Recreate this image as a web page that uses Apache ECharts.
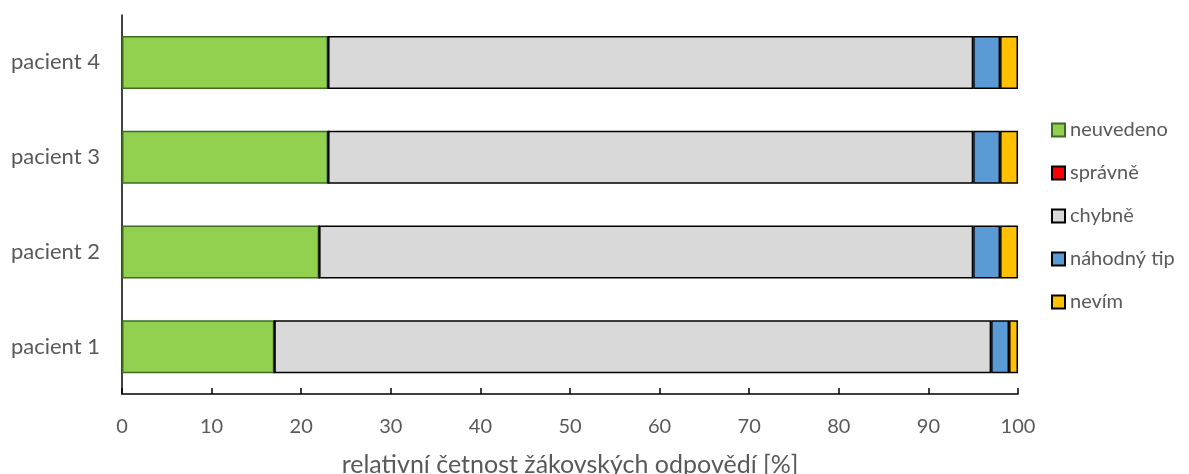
<!DOCTYPE html>
<html>
<head>
<meta charset="utf-8">
<script src="https://cdn.jsdelivr.net/npm/echarts@6/dist/echarts.min.js"></script>
<style>
  html, body { margin: 0; padding: 0; background: #fff; }
  #chart { width: 1189px; height: 474px; }
</style>
</head>
<body>
<div id="chart"></div>
<script>
// data (percent)
const categories = ['pacient 1', 'pacient 2', 'pacient 3', 'pacient 4'];
const neuvedeno = [17, 22, 23, 23];
const spravne = [0, 0, 0, 0];
const chybne = [80, 73, 72, 72];
const nahodnyTip = [2, 3, 3, 3];
const nevim = [1, 2, 2, 2];
const xTicks = { min: 0, max: 100, interval: 10 };

const fontFamily = 'Lato, "Open Sans", sans-serif';
const textColor = '#595959';

const chart = echarts.init(document.getElementById('chart'));

// one bar series
const makeSeries = (name, data, color, border) => ({
  name: name,
  type: 'bar',
  stack: 'all',
  data: data,
  barWidth: 53,
  itemStyle: { color: color, borderColor: border, borderWidth: 1.5 },
  emphasis: { disabled: true }
});

const option = {
  animation: false,
  grid: { left: 122, right: 171, top: 15, bottom: 80, outerBoundsMode: 'none' },
  legend: {
    orient: 'vertical',
    left: 1046,
    top: 115,
    itemWidth: 13,
    itemHeight: 13,
    itemGap: 23,
    icon: 'rect',
    textStyle: { fontFamily: fontFamily, fontSize: 20, color: textColor, padding: [0, 0, 0, 0] },
    data: ['neuvedeno', 'správně', 'chybně', 'náhodný tip', 'nevím']
  },
  xAxis: {
    type: 'value',
    min: xTicks.min,
    max: xTicks.max,
    interval: xTicks.interval,
    name: 'relativní četnost žákovských odpovědí [%]',
    nameLocation: 'middle',
    nameGap: 58,
    nameTextStyle: { fontFamily: fontFamily, fontSize: 25, color: textColor },
    axisLine: { show: true, lineStyle: { color: '#000', width: 1.5 } },
    axisTick: { show: true, inside: true, length: 6, lineStyle: { color: '#000', width: 1.5 } },
    axisLabel: { fontFamily: fontFamily, fontSize: 20, color: textColor, margin: 23 },
    splitLine: { show: false }
  },
  yAxis: {
    type: 'category',
    data: categories,
    axisLine: { show: true, lineStyle: { color: '#000', width: 1.5 } },
    axisTick: { show: false },
    axisLabel: { fontFamily: fontFamily, fontSize: 22, color: textColor, margin: 22 }
  },
  series: [
    makeSeries('neuvedeno', neuvedeno, '#92d050', '#3e6b24'),
    makeSeries('správně', spravne, '#ff0000', '#000'),
    makeSeries('chybně', chybne, '#d9d9d9', '#000'),
    makeSeries('náhodný tip', nahodnyTip, '#5b9bd5', '#000'),
    makeSeries('nevím', nevim, '#ffc000', '#000')
  ]
};

chart.setOption(option);
</script>
</body>
</html>
